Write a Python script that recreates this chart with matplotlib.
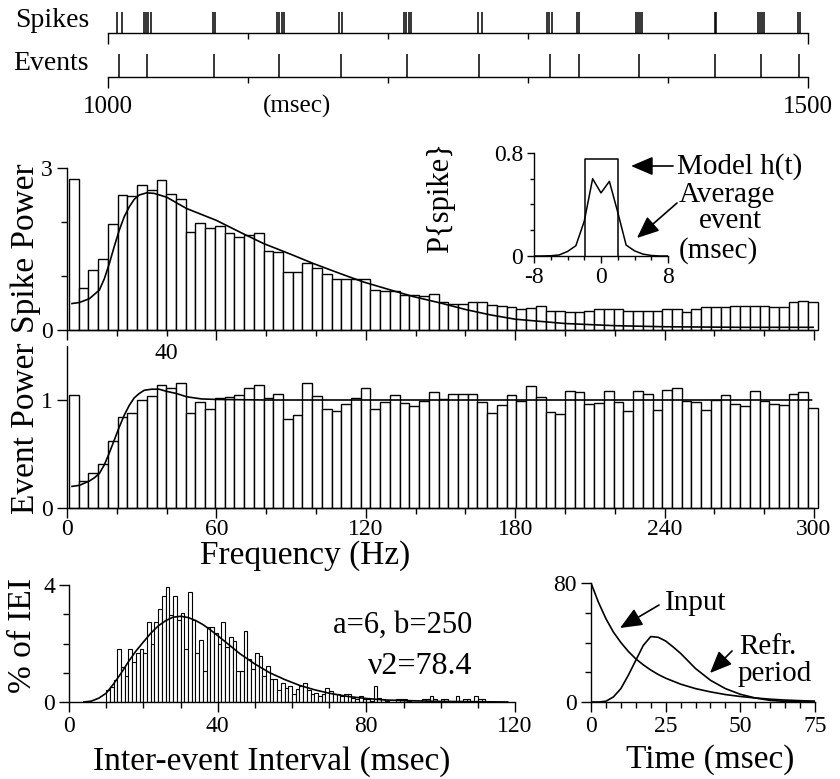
import matplotlib
matplotlib.use("Agg")
import matplotlib.pyplot as plt

plt.rcParams['font.family'] = ['Liberation Serif', 'DejaVu Serif']
plt.rcParams['axes.unicode_minus'] = False
plt.rcParams['axes.linewidth'] = 1.0

W, H = 840, 779

# raster (msec)
spike_times = [1006.7, 1009.8, 1025.5, 1027.4, 1028.8, 1030.5, 1075.3, 1076.7,
               1120.5, 1122.1, 1124.1, 1125.7, 1165.3, 1166.9, 1211.2, 1213.1,
               1215.0, 1216.4, 1264.3, 1267.1, 1313.4, 1314.8, 1317.0, 1334.8,
               1336.2, 1377.1, 1378.6, 1380.0, 1381.4, 1433.4, 1434.3, 1464.6,
               1466.0, 1467.4, 1468.6, 1493.1, 1494.6]
event_times = [1007.6, 1027.9, 1075.7, 1122.4, 1166.4, 1213.4, 1265.0, 1315.5,
               1336.6, 1379.0, 1433.4, 1466.7, 1493.4]

# power spectra, 77 bins of 3.906 Hz
bin_hz = 3.906
spike_power = [2.80, 0.77, 1.12, 1.31, 1.97, 2.50, 2.48, 2.68, 2.60, 2.77, 2.51, 2.42,
               1.82, 1.98, 1.89, 1.93, 1.79, 1.73, 1.76, 1.79, 1.46, 1.44, 1.08, 1.08,
               1.24, 1.14, 1.03, 0.94, 0.95, 0.95, 0.94, 0.75, 0.72, 0.72, 0.64, 0.64,
               0.63, 0.67, 0.51, 0.49, 0.49, 0.51, 0.51, 0.46, 0.45, 0.42, 0.39, 0.41,
               0.45, 0.36, 0.36, 0.34, 0.34, 0.36, 0.39, 0.39, 0.39, 0.36, 0.35, 0.35,
               0.35, 0.39, 0.39, 0.34, 0.39, 0.42, 0.42, 0.42, 0.45, 0.45, 0.45, 0.45,
               0.42, 0.42, 0.51, 0.54, 0.52]
event_power = [1.05, 0.25, 0.32, 0.41, 0.62, 0.84, 0.88, 1.00, 1.04, 1.14, 1.11, 1.16,
               0.88, 0.98, 0.92, 1.02, 1.03, 1.05, 1.11, 1.14, 1.02, 1.06, 0.82, 0.86,
               1.16, 1.04, 0.92, 0.90, 0.96, 1.02, 1.11, 0.92, 0.98, 1.05, 0.97, 0.94,
               0.99, 1.07, 1.01, 1.06, 1.06, 1.06, 0.98, 0.88, 0.95, 1.05, 0.99, 1.13,
               1.03, 0.89, 0.87, 1.08, 1.07, 0.96, 0.97, 1.08, 0.98, 0.90, 1.08, 1.06,
               0.91, 1.09, 1.11, 0.99, 0.98, 0.91, 1.00, 1.05, 0.96, 0.94, 1.08, 0.99,
               0.96, 0.95, 1.06, 1.07, 0.93]

spike_fit_f = [2, 5, 9, 13, 15, 17, 19, 21, 23, 25, 27, 29, 32, 35, 40, 48, 60, 70, 79,
               90, 99, 110, 119, 130, 139, 150, 160, 170, 180, 200, 220, 240, 270, 300]
spike_fit_p = [0.49, 0.51, 0.58, 0.74, 0.95, 1.23, 1.55, 1.85, 2.10, 2.28, 2.42, 2.50,
               2.54, 2.53, 2.46, 2.25, 2.03, 1.80, 1.60, 1.40, 1.23, 1.04, 0.89, 0.74,
               0.62, 0.50, 0.38, 0.28, 0.20, 0.12, 0.08, 0.06, 0.05, 0.05]
event_fit_f = [2, 5, 9, 11, 13, 15, 17, 19, 21, 23, 25, 27, 29, 31, 34, 37, 40, 44, 48,
               54, 60, 80, 299]
event_fit_p = [0.20, 0.21, 0.25, 0.28, 0.32, 0.40, 0.51, 0.63, 0.75, 0.86, 0.95, 1.02,
               1.06, 1.09, 1.10, 1.10, 1.08, 1.06, 1.03, 1.01, 1.005, 1.0, 1.0]

# inset: average event and model h(t)
inset_t = [-8, -7, -6, -5, -4, -3, -2, -1, 0, 1, 2, 3, 4, 5, 6, 7, 8]
avg_event = [0, 0, 0.002, 0.008, 0.035, 0.08, 0.27, 0.60, 0.49, 0.58, 0.34, 0.085,
             0.04, 0.015, 0.004, 0, 0]
model_lo, model_hi, model_h = -1.9, 2.0, 0.75

# inter-event interval histogram, 1 ms bins from 10 ms
iei_start = 10
iei_pct = [0.40, 0.50, 0.75, 1.82, 1.20, 0.90, 1.82, 1.37, 1.67, 1.82, 1.67, 2.73,
           1.97, 2.73, 3.18, 3.64, 3.94, 2.98, 3.63, 2.82, 3.04, 1.82, 3.77, 2.79,
           1.69, 2.12, 1.07, 2.57, 2.57, 2.36, 1.97, 2.73, 1.89, 2.23, 2.08, 1.07,
           1.07, 2.42, 1.46, 1.13, 1.66, 1.58, 0.90, 1.24, 0.77, 0.77, 0.40, 0.65,
           0.48, 0.54, 0.26, 0.45, 0.54, 0.65, 0.40, 0.26, 0.32, 0.20, 0.26, 0.48,
           0.37, 0.26, 0.26, 0.20, 0.28, 0.26, 0.15, 0.09, 0.20, 0.09, 0.09, 0.05,
           0.54, 0.15, 0.09, 0.03, 0, 0, 0.11, 0.11, 0.11, 0.03, 0, 0, 0, 0.11, 0.11,
           0.20, 0.09, 0, 0.09, 0.09, 0, 0, 0.20, 0.05, 0.09, 0.09, 0, 0.20, 0.09,
           0.09, 0]
iei_fit_t = [4, 6, 8, 10, 12, 14, 16, 18, 20, 22, 24, 26, 28, 30, 32, 34, 36, 38, 40,
             43, 46, 50, 54, 58, 62, 66, 70, 75, 80, 85, 90, 100, 110, 118]
iei_fit_p = [0, 0.03, 0.13, 0.30, 0.62, 0.98, 1.38, 1.74, 2.05, 2.35, 2.60, 2.78, 2.90,
             2.93, 2.89, 2.79, 2.65, 2.47, 2.27, 1.96, 1.65, 1.30, 1.00, 0.77, 0.57,
             0.42, 0.30, 0.19, 0.12, 0.07, 0.05, 0.02, 0.01, 0.0]

# input and refractory kernels
kern_t = [0, 2.5, 5, 7.5, 10, 12.5, 15, 17.5, 20, 22.5, 25, 27.5, 30, 35, 40, 45, 50,
          55, 60, 65, 70, 75]
input_k = [80, 67, 56, 47, 40, 34, 29, 25, 21.5, 18.5, 16, 14, 12, 9, 6.8, 5, 3.7, 2.7,
           1.9, 1.3, 0.9, 0.6]
refr_k = [0, 0, 0.5, 3.4, 9, 18, 28, 38, 44, 43.5, 41, 37, 32.7, 22.5, 14.6, 9, 5.2,
          2.7, 1.1, 0.4, 0.1, 0]

TICK = 17
BIG = 24
NOTE = 21


def box(x0, x1, ytop, ybot):
    return [x0 / W, 1 - ybot / H, (x1 - x0) / W, (ybot - ytop) / H]


def ftext(x, y, s, **kw):
    fig.text(x / W, 1 - y / H, s, **kw)


def arrow(x0, y0, x1, y1):
    fig.add_artist(plt.Annotation(
        '', xy=(x1, H - y1), xytext=(x0, H - y0),
        xycoords='figure pixels', textcoords='figure pixels',
        arrowprops=dict(arrowstyle='-|>,head_length=0.75,head_width=0.32',
                        color='black', lw=1.2, mutation_scale=18,
                        shrinkA=0, shrinkB=0)))


def style(ax):
    for s in ['top', 'right']:
        ax.spines[s].set_visible(False)
    ax.tick_params(which='both', direction='out', width=1, labelsize=TICK, pad=3)
    ax.tick_params(which='major', length=7)
    ax.tick_params(which='minor', length=4)


fig = plt.figure(figsize=(W / 100, H / 100), dpi=100)

# raster
for row, (times, ytop, ybot, label) in enumerate([(spike_times, 12, 33, 'Spikes'),
                                                  (event_times, 54, 77, 'Events')]):
    ax = fig.add_axes(box(108, 808, ytop, ybot))
    ax.vlines(times, 0, 1, color='black', lw=1.1)
    ax.set_xlim(1000, 1500)
    ax.set_ylim(0, 1)
    for s in ['top', 'right', 'left']:
        ax.spines[s].set_visible(False)
    ax.set_yticks([])
    ax.set_xticks([1000, 1500])
    ax.set_xticks([1100, 1200, 1300, 1400], minor=True)
    ax.tick_params(which='major', direction='out', length=8, width=1)
    ax.tick_params(which='minor', direction='out', length=4, width=1)
    if row == 0:
        ax.set_xticklabels([])
    else:
        ax.set_xticklabels(['1000', '1500'], fontsize=18)
        ax.tick_params(which='major', pad=6)
        ax.text(1135, -1.3, '(msec)', fontsize=18, ha='center', va='center')
    ftext(89, (ytop + ybot) / 2 - 2, label, fontsize=20, ha='right', va='center')

# spike power
edges = [0.8 + i * bin_hz for i in range(len(spike_power))]
ax1 = fig.add_axes(box(67, 814, 168, 330))
ax1.bar(edges, spike_power, width=bin_hz, align='edge', facecolor='white',
        edgecolor='black', lw=1.0, clip_on=False)
ax1.plot(spike_fit_f, spike_fit_p, color='black', lw=1.2)
ax1.set_xlim(0, 300)
ax1.set_ylim(0, 3)
style(ax1)
ax1.set_xticks(range(0, 301, 60))
ax1.set_xticks(range(20, 300, 20), minor=True)
ax1.set_xticklabels([])
ax1.set_yticks([0, 3])
ax1.set_yticklabels(['0', '3'])
ax1.set_yticks([1, 2], minor=True)

# event power
ax2 = fig.add_axes(box(67, 814, 346, 508))
ax2.bar(edges, event_power, width=bin_hz, align='edge', facecolor='white',
        edgecolor='black', lw=1.0, clip_on=False)
ax2.plot(event_fit_f, event_fit_p, color='black', lw=1.2)
ax2.set_xlim(0, 300)
ax2.set_ylim(0, 1.5)
style(ax2)
ax2.tick_params(axis='x', which='major', pad=1)
ax2.set_xticks(range(0, 301, 60))
ax2.set_xticks(range(20, 300, 20), minor=True)
ax2.set_yticks([0, 1])
ax2.set_yticklabels(['0', '1'])
ax2.text(40, 1.43, '40', fontsize=TICK, ha='center', va='center')

ftext(26, 248, 'Spike Power', fontsize=BIG, rotation=90, ha='center', va='center')
ftext(26, 428, 'Event Power', fontsize=BIG, rotation=90, ha='center', va='center')
ftext(305, 556, 'Frequency (Hz)', fontsize=BIG, ha='center', va='center')

# inset
ax3 = fig.add_axes(box(534, 668, 153, 256))
ax3.plot([model_lo, model_lo, model_hi, model_hi], [0, model_h, model_h, 0],
         color='black', lw=1.1)
ax3.plot(inset_t, avg_event, color='black', lw=1.1)
ax3.set_xlim(-8, 8)
ax3.set_ylim(0, 0.8)
style(ax3)
ax3.tick_params(which='major', length=5)
ax3.tick_params(which='minor', length=3)
ax3.set_xticks([-8, 0, 8])
ax3.set_xticklabels(['-8', '0', '8'])
ax3.set_xticks([-6, -4, -2, 2, 4, 6], minor=True)
ax3.set_yticks([0, 0.8])
ax3.set_yticklabels(['0', '0.8'])
ax3.set_yticks([0.2, 0.4, 0.6], minor=True)
ftext(441, 198, 'P{spike}', fontsize=22, rotation=90, ha='center', va='center')
ftext(677, 167, 'Model h(t)', fontsize=NOTE, ha='left', va='center')
ftext(679, 195, 'Average', fontsize=NOTE, ha='left', va='center')
ftext(730, 221, 'event', fontsize=NOTE, ha='center', va='center')
ftext(679, 251, '(msec)', fontsize=NOTE, ha='left', va='center')
arrow(673, 166, 631, 166)
arrow(677, 203, 637, 238)

# inter-event interval histogram
ax4 = fig.add_axes(box(69, 515, 585, 702))
iei_edges = [iei_start + i for i in range(len(iei_pct))]
ax4.bar(iei_edges, iei_pct, width=1, align='edge', facecolor='white',
        edgecolor='black', lw=0.8)
ax4.plot(iei_fit_t, iei_fit_p, color='black', lw=1.2)
ax4.set_xlim(0, 120)
ax4.set_ylim(0, 4)
style(ax4)
ax4.set_xticks([0, 40, 80, 120])
ax4.set_xticks([10, 20, 30, 50, 60, 70, 90, 100, 110], minor=True)
ax4.set_yticks([0, 4])
ax4.set_yticklabels(['0', '4'])
ax4.set_yticks([1, 2, 3], minor=True)
ftext(472, 625, 'a=6, b=250', fontsize=22, ha='right', va='center')
ftext(472, 666, '\u03bd2=78.4', fontsize=23, ha='right', va='center')
ftext(23, 636, '% of IEI', fontsize=BIG, rotation=90, ha='center', va='center')
ftext(272, 762, 'Inter-event Interval (msec)', fontsize=BIG, ha='center', va='center')

# kernels
ax5 = fig.add_axes(box(591, 815, 583, 702))
ax5.plot(kern_t, input_k, color='black', lw=1.2)
ax5.plot(kern_t, refr_k, color='black', lw=1.2)
ax5.set_xlim(0, 75)
ax5.set_ylim(0, 80)
style(ax5)
ax5.set_xticks([0, 25, 50, 75])
ax5.set_xticks([t for t in range(5, 75, 5) if t % 25], minor=True)
ax5.set_yticks([0, 80])
ax5.set_yticklabels(['0', '80'])
ax5.set_yticks([20, 40, 60], minor=True)
ftext(665, 603, 'Input', fontsize=NOTE, ha='left', va='center')
ftext(739, 647, 'Refr.', fontsize=NOTE, ha='left', va='center')
ftext(738, 674, 'period', fontsize=NOTE, ha='left', va='center')
arrow(659, 605, 620, 628)
arrow(732, 651, 710, 673)
ftext(710, 760, 'Time (msec)', fontsize=BIG, ha='center', va='center')

fig.savefig('out.png', dpi=100)
